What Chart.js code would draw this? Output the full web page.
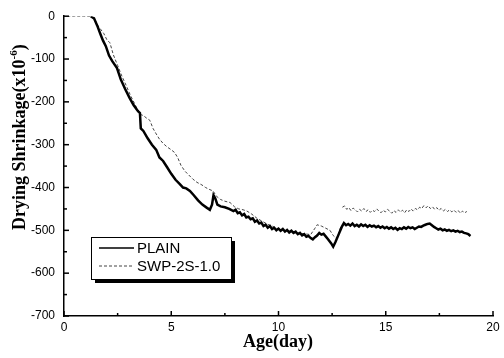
<!DOCTYPE html>
<html>
<head>
<meta charset="utf-8">
<script src="https://cdn.jsdelivr.net/npm/chart.js@4.4.0/dist/chart.umd.min.js"></script>
<style>
  html, body { margin: 0; padding: 0; background: #fff; }
  #wrap { width: 504px; height: 358px; }
</style>
</head>
<body>
<div id="wrap"><canvas id="chartCanvas"></canvas></div>
<script>
// Drying shrinkage vs age
const seriesNames = ['PLAIN', 'SWP-2S-1.0'];

const plainDays = [
  1.25, 1.30, 1.40, 1.55, 1.70, 1.82, 1.95, 2.10, 2.25, 2.47, 2.65, 2.85, 3.05, 3.25, 3.45, 3.54,
  3.58, 3.70, 3.90, 4.10, 4.30, 4.45, 4.62, 4.80, 5.00, 5.20, 5.40, 5.55, 5.70, 5.87, 6.05, 6.25,
  6.45, 6.65, 6.80, 6.90, 6.97, 7.05, 7.15, 7.30, 7.50, 7.70,
  7.90, 8.00, 8.10, 8.20, 8.30, 8.40, 8.50, 8.60, 8.70, 8.80, 8.90, 9.00, 9.10, 9.20, 9.30, 9.40,
  9.50, 9.60, 9.70, 9.80, 9.90, 10.00, 10.10, 10.20, 10.30, 10.40, 10.50, 10.60, 10.70, 10.80, 10.90, 11.00,
  11.10, 11.20, 11.30, 11.40, 11.50, 11.60, 11.70, 11.80, 11.90, 12.00, 12.10, 12.20,
  12.30, 12.45, 12.55, 12.65, 12.80, 12.95,
  13.05, 13.15, 13.25, 13.35, 13.45, 13.55, 13.65, 13.75, 13.85, 13.95, 14.05, 14.15, 14.25, 14.35, 14.45, 14.55,
  14.65, 14.75, 14.85, 14.95, 15.05, 15.15, 15.25, 15.35, 15.45, 15.55, 15.65, 15.75, 15.85, 15.95, 16.05, 16.15,
  16.25, 16.35, 16.45, 16.55, 16.65, 16.75, 16.85, 16.95, 17.05, 17.15, 17.25, 17.35, 17.45, 17.55, 17.65, 17.75,
  17.85, 17.95, 18.05, 18.15, 18.25, 18.35, 18.45, 18.55, 18.65, 18.75, 18.85, 18.95
];
const plainShrinkage = [
  0, -2, -5, -22, -42, -57, -70, -92, -105, -121, -148, -170, -190, -208, -222, -226,
  -262, -268, -285, -300, -312, -330, -338, -352, -368, -382, -392, -400, -402, -408, -418, -430,
  -440, -447, -452, -440, -418, -425, -440, -444, -446, -450,
  -455, -452, -460, -458, -465, -462, -470, -468, -474, -472, -480, -477, -484, -482, -490, -487,
  -494, -490, -497, -494, -500, -496, -501, -497, -503, -499, -505, -501, -506, -503, -509, -506,
  -512, -509, -515, -513, -518, -521, -516, -512, -506, -510, -508, -514,
  -520, -530, -538, -528, -510, -492,
  -483, -488, -485, -489, -484, -490, -487, -491, -486, -490, -487, -492, -488, -491, -489, -493,
  -490, -494, -491, -495, -492, -496, -493, -497, -494, -499, -495, -497, -493, -496, -492, -495,
  -493, -497, -494, -491, -492, -489, -487, -485, -484, -488, -492, -495, -498, -496, -500, -498,
  -501, -499, -502, -500, -503, -501, -504, -503, -506, -507, -509, -513
];

const swpDays = [
  0.15, 0.50, 0.90, 1.30, 1.40, 1.55, 1.70, 1.85, 2.00, 2.14, 2.30, 2.50, 2.70, 2.90, 3.10, 3.30,
  3.54, 3.70, 3.85, 4.00, 4.15, 4.30, 4.45, 4.62, 4.80, 5.00, 5.15, 5.30, 5.45, 5.64, 5.80, 6.00,
  6.20, 6.43, 6.60, 6.80, 6.95, 7.10, 7.30, 7.50, 7.74, 7.95, 8.15, 8.35, 8.53, 8.75, 9.00, 9.28,
  9.50, 9.80, 10.00, 10.30, 10.60, 10.90, 11.20, 11.50, 11.70, 11.80, 12.00, 12.20, 12.40, 12.55,
  12.70, 12.80, 12.90, 12.94,
  12.98, 13.08, 13.18, 13.28, 13.38, 13.48, 13.58, 13.68, 13.78, 13.88, 13.98, 14.08, 14.18, 14.28, 14.38, 14.48,
  14.58, 14.68, 14.78, 14.88, 14.98, 15.08, 15.18, 15.28, 15.38, 15.48, 15.58, 15.68, 15.78, 15.88, 15.98, 16.08,
  16.18, 16.28, 16.38, 16.48, 16.58, 16.68, 16.78, 16.88, 16.98, 17.08, 17.18, 17.28, 17.38, 17.48, 17.58, 17.68,
  17.78, 17.88, 17.98, 18.08, 18.18, 18.28, 18.38, 18.48, 18.58, 18.68, 18.78
];
const swpShrinkage = [
  0, 0, 0, 0, -3, -20, -30, -40, -55, -62, -90, -115, -140, -162, -185, -205,
  -229, -232, -238, -243, -262, -275, -287, -297, -305, -312, -318, -330, -348, -362, -370, -380,
  -388, -394, -400, -405, -408, -420, -428, -432, -435, -445, -450, -452, -455, -462, -472, -480,
  -486, -492, -497, -500, -502, -506, -508, -510, -495, -487, -490, -495, -500, -512,
  -519, -508, -492, null,
  -446, -443, -451, -447, -454, -448, -452, -457, -451, -455, -449, -456, -452, -458, -453, -456,
  -450, -455, -459, -453, -457, -451, -455, -460, -454, -458, -452, -457, -453, -459, -452, -456,
  -450, -455, -449, -452, -446, -449, -442, -447, -443, -449, -445, -451, -447, -453, -449, -455,
  -451, -456, -452, -457, -453, -458, -454, -460, -455, -459, -456
];

const xTicks = { min: 0, max: 20, step: 5 };
const yTicks = { min: -700, max: 0, step: 100 };

function toPoints(xs, ys) {
  return xs.map((x, i) => ({ x: x, y: ys[i] }));
}

// inside ticks, axis titles and the boxed legend with drop shadow
const decorPlugin = {
  id: 'decor',
  afterDraw(chart) {
    const { ctx, chartArea, scales } = chart;
    const xs = scales.x, ys = scales.y;
    ctx.save();
    ctx.strokeStyle = '#000';
    ctx.lineWidth = 1.5;

    // x ticks (major every 5, minor between)
    for (let v = xTicks.min; v <= xTicks.max + 1e-9; v += xTicks.step / 2) {
      const px = xs.getPixelForValue(v);
      const len = (Math.round(v / xTicks.step * 2) % 2 === 0) ? 5 : 3;
      ctx.beginPath();
      ctx.moveTo(px, chartArea.bottom);
      ctx.lineTo(px, chartArea.bottom - len);
      ctx.stroke();
    }
    // y ticks
    for (let v = yTicks.min; v <= yTicks.max + 1e-9; v += yTicks.step / 2) {
      const py = ys.getPixelForValue(v);
      const len = (Math.round(v / yTicks.step * 2) % 2 === 0) ? 5 : 3;
      ctx.beginPath();
      ctx.moveTo(chartArea.left, py);
      ctx.lineTo(chartArea.left + len, py);
      ctx.stroke();
    }

    // axis titles
    ctx.fillStyle = '#000';
    ctx.font = 'bold 18px "Liberation Serif", "Times New Roman", serif';
    ctx.textAlign = 'center';
    ctx.textBaseline = 'alphabetic';
    ctx.fillText('Age(day)', 278, 347);

    ctx.save();
    ctx.translate(25, 230);
    ctx.rotate(-Math.PI / 2);
    ctx.textAlign = 'left';
    const main = 'Drying Shrinkage(x10';
    ctx.fillText(main, 0, 0);
    let w = ctx.measureText(main).width;
    ctx.font = 'bold 11px "Liberation Serif", "Times New Roman", serif';
    ctx.fillText('-6', w, -8);
    w += ctx.measureText('-6').width;
    ctx.font = 'bold 18px "Liberation Serif", "Times New Roman", serif';
    ctx.fillText(')', w, 0);
    ctx.restore();

    // legend
    const box = { x: 91, y: 237, w: 140, h: 42 };
    ctx.fillStyle = '#000';
    ctx.fillRect(box.x + 4, box.y + 4, box.w, box.h);
    ctx.fillStyle = '#fff';
    ctx.fillRect(box.x, box.y, box.w, box.h);
    ctx.lineWidth = 1;
    ctx.strokeStyle = '#000';
    ctx.strokeRect(box.x + 0.5, box.y + 0.5, box.w, box.h);

    chart.data.datasets.forEach((ds, i) => {
      const ly = box.y + 11 + i * 18;
      ctx.beginPath();
      ctx.strokeStyle = ds.borderColor;
      ctx.lineWidth = i === 0 ? 1.5 : 1;
      ctx.setLineDash(ds.borderDash || []);
      ctx.moveTo(box.x + 8, ly);
      ctx.lineTo(box.x + 43, ly);
      ctx.stroke();
      ctx.setLineDash([]);
      ctx.fillStyle = '#000';
      ctx.font = '15px "Liberation Sans", Arial, sans-serif';
      ctx.textAlign = 'left';
      ctx.textBaseline = 'middle';
      ctx.fillText(ds.label, box.x + 46, ly + 1);
    });
    ctx.restore();
  }
};

const ctx = document.getElementById('chartCanvas').getContext('2d');
new Chart(ctx, {
  type: 'line',
  data: {
    datasets: [
      {
        label: seriesNames[0],
        data: toPoints(plainDays, plainShrinkage),
        borderColor: '#000',
        borderWidth: 2.5,
        pointRadius: 0,
        tension: 0,
        fill: false
      },
      {
        label: seriesNames[1],
        data: toPoints(swpDays, swpShrinkage),
        borderColor: '#444',
        borderWidth: 1,
        borderDash: [3, 2],
        pointRadius: 0,
        tension: 0,
        spanGaps: false,
        fill: false
      }
    ]
  },
  options: {
    responsive: true,
    maintainAspectRatio: false,
    animation: false,
    layout: { padding: { left: 0, right: 11, top: 10, bottom: 0 } },
    plugins: {
      legend: { display: false },
      tooltip: { enabled: false }
    },
    scales: {
      x: {
        type: 'linear',
        min: xTicks.min,
        max: xTicks.max,
        grid: { display: false, drawTicks: false },
        border: { display: true, color: '#000', width: 1.5 },
        ticks: {
          stepSize: xTicks.step,
          color: '#000',
          padding: 4,
          maxRotation: 0,
          font: { family: '"Liberation Sans", Arial, sans-serif', size: 12 }
        },
        afterFit(scale) { scale.height = 42; }
      },
      y: {
        type: 'linear',
        min: yTicks.min,
        max: yTicks.max,
        grid: { display: false, drawTicks: false },
        border: { display: true, color: '#000', width: 1.5 },
        ticks: {
          stepSize: yTicks.step,
          color: '#000',
          padding: 9,
          font: { family: '"Liberation Sans", Arial, sans-serif', size: 12 }
        },
        afterFit(scale) { scale.width = 64; }
      }
    }
  },
  plugins: [decorPlugin]
});
</script>
</body>
</html>
